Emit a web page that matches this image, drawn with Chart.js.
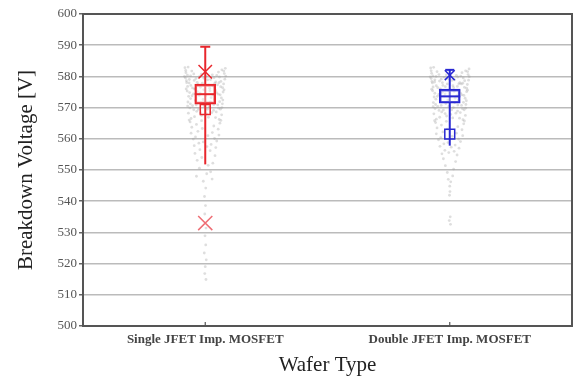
<!DOCTYPE html>
<html>
<head>
<meta charset="utf-8">
<script src="https://cdn.jsdelivr.net/npm/chart.js@4/dist/chart.umd.min.js"></script>
<style>
  html, body { margin: 0; padding: 0; background: #fff; overflow: hidden; }
  #wrap { width: 573px; height: 376px; position: relative; }
  canvas { display: block; }
</style>
</head>
<body>
<div id="wrap"><canvas id="myChart"></canvas></div>
<script>
// categories (x = 1, 2)
const waferTypes = ['Single JFET Imp. MOSFET', 'Double JFET Imp. MOSFET'];
const yTicks = [500, 510, 520, 530, 540, 550, 560, 570, 580, 590, 600];

// box statistics [single, double]
const q1 = [571.1, 571.4];
const median = [574.3, 573.6];
const q3 = [577.5, 575.9];
const whiskerLow = [551.8, 557.8];
const whiskerHigh = [589.5, 582.1];
const meanMark = [569.4, 561.5];
const crossHigh = [581.5, 580.4];
const crossLow = [533.0];   // only the single wafer has a low X

// gray measurement clouds, [jitter, voltage]
const singleCloud = [
  [-0.083,582.8],[-0.079,581.2],[-0.081,579.5],[-0.076,578.0],[-0.072,576.8],[0.082,582.6],[0.078,580.9],[0.080,579.1],[0.075,577.6],[0.071,576.4],
  [-0.060,580.2],[-0.045,578.7],[-0.030,577.4],[-0.052,576.3],[0.058,579.8],[0.043,578.2],[0.033,576.9],[0.050,577.3],[-0.066,577.9],[0.064,578.4],
  [-0.020,576.5],[0.018,576.2],[-0.038,579.3],[0.036,579.6],[-0.070,583.0],[0.068,582.1],[-0.012,577.8],[0.010,578.9],[-0.055,581.7],[0.054,581.4],
  [-0.080,581.9],[-0.073,580.4],[-0.077,578.6],[-0.065,579.0],[-0.059,577.1],[-0.047,580.8],[-0.041,576.1],[-0.033,578.1],[-0.024,579.9],[-0.016,580.7],
  [-0.005,579.4],[0.004,580.1],[0.014,577.2],[0.022,579.0],[0.029,580.5],[0.039,577.8],[0.047,580.3],[0.056,578.0],[0.063,576.7],[0.076,581.7],
  [0.084,580.1],[-0.085,580.0],[-0.078,576.0],[0.077,575.7],
  [-0.074,575.3],[-0.068,573.6],[-0.071,571.8],[-0.063,569.9],[-0.069,568.2],[-0.058,566.5],[0.073,575.0],[0.066,573.1],[0.070,571.2],[0.062,569.5],
  [0.067,567.7],[0.057,566.2],[-0.048,574.4],[-0.040,572.3],[-0.052,570.6],[-0.035,568.8],[-0.044,567.1],[0.046,574.8],[0.038,572.7],[0.051,570.9],
  [0.034,569.1],[0.042,566.8],[-0.025,573.9],[-0.018,571.5],[-0.028,569.4],[-0.015,567.5],[0.024,573.2],[0.016,570.2],[0.027,568.4],[0.013,566.9],
  [-0.060,572.9],[0.059,571.9],[-0.006,575.7],[0.005,568.0],[-0.032,575.1],
  [-0.064,574.8],[-0.054,573.8],[-0.043,575.9],[-0.021,574.6],[-0.009,572.6],[0.002,573.8],[0.019,575.4],[0.031,574.0],[0.041,575.6],[0.053,574.3],
  [0.061,574.1],[0.072,572.4],[-0.072,570.5],[-0.061,571.2],[-0.047,569.3],[-0.037,570.9],[-0.020,568.3],[-0.004,570.6],[0.009,569.5],[0.021,571.8],
  [0.035,571.0],[0.045,568.6],[0.055,569.8],[0.068,570.0],[-0.066,566.0],[0.064,565.9],
  [-0.062,565.4],[-0.055,563.7],[-0.058,561.8],[-0.049,559.9],[-0.045,557.8],[0.060,565.0],[0.053,563.1],[0.056,561.2],[0.047,559.3],[0.043,557.2],
  [-0.036,564.6],[-0.030,562.4],[-0.040,560.6],[-0.026,558.6],[-0.022,556.5],[0.035,564.1],[0.029,562.0],[0.038,560.1],[0.024,558.2],[0.020,556.2],
  [-0.012,563.3],[0.011,561.0],[-0.008,559.0],[0.007,557.5],[-0.015,565.8],
  [-0.042,555.3],[0.040,554.6],[-0.033,553.1],[0.031,552.2],[-0.024,550.6],[0.022,549.4],[-0.036,548.0],[0.028,547.1],[-0.014,554.0],[0.012,551.5],
  [-0.008,546.4],[0.006,548.8],
  [0.002,544.2],[-0.003,541.5],[0.001,538.6],[-0.002,535.9],[0.003,531.4],[-0.001,528.9],[0.002,526.0],[-0.004,523.4],[0.004,521.2],[0.000,519.0],
  [-0.002,516.8],[0.003,514.9]
];
const doubleCloud = [
  [-0.078,582.7],[-0.074,581.0],[-0.076,579.3],[-0.071,577.9],[-0.068,576.6],[0.079,582.4],[0.075,580.6],[0.077,578.8],[0.072,577.4],[0.069,576.2],
  [-0.056,580.0],[-0.042,578.5],[-0.028,577.1],[-0.049,576.4],[0.055,579.5],[0.041,578.0],[0.031,576.8],[0.047,577.6],[-0.062,578.2],[0.061,578.6],
  [-0.018,576.7],[0.016,576.4],[-0.035,579.1],[0.033,579.8],[-0.066,582.9],[0.065,581.8],[-0.010,577.6],[0.009,578.7],[-0.052,581.5],[0.050,581.2],
  [-0.076,581.8],[-0.069,580.2],[-0.073,578.4],[-0.061,578.9],[-0.055,577.0],[-0.044,580.6],[-0.038,576.0],[-0.030,578.0],[-0.022,579.7],[-0.014,580.5],
  [-0.004,579.2],[0.004,580.0],[0.013,577.0],[0.020,578.9],[0.027,580.3],[0.037,577.6],[0.045,580.1],[0.053,577.8],[0.060,576.5],[0.073,581.5],
  [0.080,579.9],[-0.080,579.8],[-0.074,575.9],[0.073,575.6],
  [-0.070,575.4],[-0.064,573.4],[-0.067,571.6],[-0.060,569.7],[-0.065,568.0],[-0.055,566.3],[0.069,575.1],[0.063,573.0],[0.066,571.0],[0.059,569.3],
  [0.064,567.5],[0.054,566.1],[-0.045,574.2],[-0.038,572.1],[-0.049,570.4],[-0.033,568.6],[-0.041,566.9],[0.044,574.6],[0.036,572.5],[0.048,570.7],
  [0.032,568.9],[0.040,566.6],[-0.023,573.7],[-0.016,571.3],[-0.026,569.2],[-0.013,567.3],[0.022,573.0],[0.015,570.0],[0.025,568.2],[0.012,566.7],
  [-0.057,572.7],[0.056,571.7],[-0.005,575.5],[0.004,567.8],[-0.030,574.9],
  [-0.061,574.6],[-0.051,573.6],[-0.040,575.7],[-0.019,574.4],[-0.008,572.4],[0.002,573.6],[0.018,575.2],[0.029,573.8],[0.039,575.4],[0.050,574.1],
  [0.058,573.9],[0.068,572.2],[-0.068,570.3],[-0.058,571.0],[-0.044,569.1],[-0.035,570.7],[-0.019,568.1],[-0.003,570.4],[0.008,569.3],[0.020,571.6],
  [0.033,570.8],[0.043,568.4],[0.052,569.6],[0.065,569.8],[-0.062,565.8],[0.060,565.7],
  [-0.058,565.2],[-0.052,563.5],[-0.055,561.6],[-0.046,559.7],[-0.040,557.6],[0.057,564.8],[0.050,562.9],[0.053,561.0],[0.044,559.1],[0.038,557.0],
  [-0.034,564.4],[-0.028,562.2],[-0.037,560.4],[-0.024,558.4],[-0.020,556.3],[0.033,563.9],[0.027,561.8],[0.036,559.9],[0.022,558.0],[0.018,556.0],
  [-0.011,563.1],[0.010,560.8],[-0.007,558.8],[0.006,557.3],[-0.014,565.6],[-0.032,555.2],[0.030,554.8],[-0.004,555.6],
  [-0.026,553.6],[0.024,552.7],[-0.018,551.4],[0.016,550.3],[-0.010,549.2],[0.012,548.1],[-0.006,547.0],[0.004,546.2],
  [0.000,544.8],[0.001,543.1],[-0.001,541.9],[0.002,535.0],[-0.002,533.8],[0.003,532.6]
];

const colors = ['rgb(232, 38, 44)', 'rgb(40, 40, 210)'];
const serif = "'Liberation Serif', 'DejaVu Serif', serif";

const clouds = [singleCloud, doubleCloud];
let datasets = [];

clouds.forEach(function(cloud, i) {
  datasets.push({
    type: 'scatter',
    data: cloud.map(p => ({x: i + 1 + p[0], y: p[1]})),
    pointRadius: 1.4,
    pointBackgroundColor: 'rgba(160,160,160,0.35)',
    pointBorderWidth: 0,
    order: 10
  });
});

// boxes q1..q3, one bar dataset so they are not grouped side by side
datasets.push({
  type: 'bar',
  data: waferTypes.map((n, i) => ({x: i + 1, y: [q1[i], q3[i]]})),
  barThickness: 21,
  grouped: false,
  backgroundColor: 'rgba(255,255,255,0.35)',
  borderColor: colors,
  borderWidth: 2,
  borderSkipped: false,
  order: 2
});

waferTypes.forEach(function(name, i) {
  const c = colors[i];
  const x = i + 1;
  // whisker
  datasets.push({
    type: 'scatter',
    showLine: true,
    data: [{x: x, y: whiskerLow[i]}, {x: x, y: whiskerHigh[i]}],
    borderColor: c,
    borderWidth: 2,
    pointRadius: 0,
    order: 3
  });
  // top cap
  datasets.push({
    type: 'scatter',
    data: [{x: x, y: whiskerHigh[i]}],
    pointStyle: 'line',
    pointRadius: i == 0 ? 5 : 4.5,
    borderColor: c,
    borderWidth: 2,
    order: 1
  });
  // median
  datasets.push({
    type: 'scatter',
    data: [{x: x, y: median[i]}],
    pointStyle: 'line',
    pointRadius: 10.5,
    borderColor: c,
    borderWidth: 2,
    order: 1
  });
  // mean square
  datasets.push({
    type: 'scatter',
    data: [{x: x, y: meanMark[i]}],
    pointStyle: 'rect',
    pointRadius: 7,
    backgroundColor: 'rgba(255,255,255,0)',
    borderColor: c,
    borderWidth: 1.5,
    order: 1
  });
  // upper X
  datasets.push({
    type: 'scatter',
    data: [{x: x, y: crossHigh[i]}],
    pointStyle: 'crossRot',
    pointRadius: i == 0 ? 9.5 : 7,
    borderColor: c,
    borderWidth: 1.5,
    order: 1
  });
});

// lower X of the single wafer
datasets.push({
  type: 'scatter',
  data: crossLow.map(v => ({x: 1, y: v})),
  pointStyle: 'crossRot',
  pointRadius: 10,
  borderColor: 'rgba(232, 60, 70, 0.75)',
  borderWidth: 1.5,
  order: 1
});

// frame round the plot + small inward ticks on the x axis
const frame = {
  id: 'frame',
  afterDraw(chart) {
    const {ctx, chartArea: a, scales} = chart;
    ctx.save();
    ctx.strokeStyle = '#555';
    ctx.lineWidth = 2;
    ctx.strokeRect(a.left, a.top, a.right - a.left, a.bottom - a.top);
    ctx.lineWidth = 1.2;
    waferTypes.forEach(function(n, i) {
      const px = scales.x.getPixelForValue(i + 1);
      ctx.beginPath();
      ctx.moveTo(px, a.bottom);
      ctx.lineTo(px, a.bottom - 4);
      ctx.stroke();
    });
    ctx.restore();
  }
};

var ctx = document.getElementById('myChart').getContext('2d');
var myChart = new Chart(ctx, {
  type: 'scatter',
  data: { datasets: datasets },
  plugins: [frame],
  options: {
    responsive: true,
    maintainAspectRatio: false,
    animation: false,
    layout: { autoPadding: false, padding: { top: 14, right: 1, left: 0, bottom: 0 } },
    plugins: {
      legend: { display: false },
      tooltip: { enabled: false }
    },
    scales: {
      x: {
        type: 'linear',
        min: 0.5,
        max: 2.5,
        offset: false,
        afterBuildTicks: (s) => { s.ticks = waferTypes.map((n, i) => ({value: i + 1})); },
        afterFit: (s) => { s.height = 50; s.paddingLeft = 0; s.paddingRight = 0; },
        grid: { display: false, drawTicks: false },
        border: { display: false },
        ticks: {
          padding: 6,
          color: '#444',
          font: { family: serif, size: 13, weight: 'bold' },
          callback: (v) => waferTypes[Math.round(v) - 1],
          maxRotation: 0,
          autoSkip: false
        },
        title: {
          display: true,
          text: 'Wafer Type',
          color: '#222',
          font: { family: serif, size: 21, lineHeight: 1 },
          padding: 0
        }
      },
      y: {
        min: yTicks[0],
        max: yTicks[yTicks.length - 1],
        afterBuildTicks: (s) => { s.ticks = yTicks.map(v => ({value: v})); },
        afterFit: (s) => { s.width = 83; },
        grid: { color: '#bbb', lineWidth: 1.5, tickLength: 4, tickColor: '#666' },
        border: { display: false },
        ticks: {
          padding: 2,
          color: '#555',
          font: { family: serif, size: 13 }
        },
        title: {
          display: true,
          text: 'Breakdown Voltage [V]',
          color: '#222',
          font: { family: serif, size: 21, lineHeight: 1 },
          padding: { top: 16, bottom: 0 }
        }
      }
    }
  }
});
</script>
</body>
</html>
